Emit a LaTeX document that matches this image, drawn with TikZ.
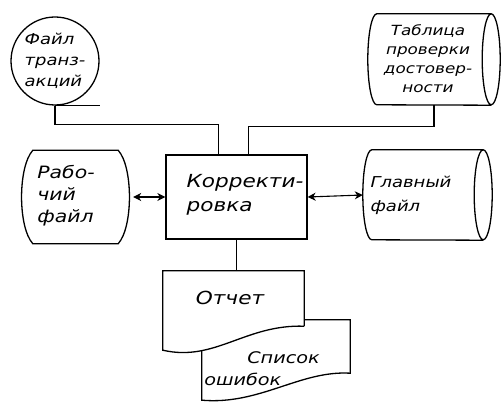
\documentclass[tikz,border=0pt]{standalone}
\usepackage{fontspec}
\setmainfont[FakeStretch=1.2]{DejaVu Sans}
\usetikzlibrary{shapes,arrows,arrows.meta,calc,positioning}

\begin{document}
\begin{tikzpicture}[x=1pt,y=-1pt]
			\tikzset{trait/.style={line width=1.3pt},
				lien/.style={line width=1.1pt},
				lienD/.style={{Stealth[length=8pt,width=8pt,inset=2.5pt]}-{Stealth[length=8pt,width=8pt,inset=2.5pt]}, line width=1.1pt},
				texte/.style={font=\fontsize{18}{24}\selectfont\itshape, align=left, inner sep=0pt},
				zone/.style={inner sep=0pt}};
			\useasboundingbox (0,0) rectangle (503,403);
			% bande magnetique
			\node [draw, trait, circle, minimum size=88, texte, font=\fontsize{15}{21}\selectfont\itshape] (trans) at (55,61) {Файл\\транз-\\акций};
			\draw[trait] (trans.south) -- ++(45,0);
			% tambours
			\node [zone, minimum width=132, minimum height=91] (table) at (434,59.5) {};
			\node [texte, align=center, font=\fontsize{14}{19}\selectfont\itshape] (tabletxt) at (428,59) {Таблица\\проверки\\достовер-\\ности};
			\node [zone, minimum width=129, minimum height=90] (principal) at (427.5,195) {};
			\node [texte, font=\fontsize{15}{24}\selectfont\itshape] (principaltxt) at (411,195) {Главный\\файл};
			\foreach \d/\r in {table/45.5, principal/45}
				\draw[trait] ($(\d.north east)+(-9,0)$) arc[start angle=90, end angle=450, x radius=9pt, y radius=\r pt]
					-- ($(\d.north west)+(9,0)$) arc[start angle=90, end angle=270, x radius=9pt, y radius=\r pt]
					-- ($(\d.south east)+(-9,0)$);
			% bloc central
			\node [draw, trait, zone, minimum width=141, minimum height=84] (corr) at (236.5,197) {};
			\node [texte] (corrtxt) at (245,195) {Корректи-\\ровка};
			% fichier de travail
			\node [zone, minimum width=115, minimum height=93] (travail) at (75.5,197) {};
			\draw[trait] ($(travail.north west)+(15,0)$) -- ($(travail.north east)+(-15,0)$)
				.. controls ($(travail.east)+(0,-30)$) and ($(travail.east)+(0,30)$) .. ($(travail.south east)+(-15,0)$)
				-- ($(travail.south west)+(15,0)$)
				.. controls ($(travail.west)+(0,30)$) and ($(travail.west)+(0,-30)$) .. cycle;
			\node [texte, font=\fontsize{17}{22}\selectfont\itshape] (travailtxt) at (66,196) {Рабо-\\чий\\файл};
			% documents
			\node [zone, minimum width=148, minimum height=53] (erreurs) at (276,346.5) {};
			\draw[trait, fill=white] (erreurs.north west) -- (erreurs.north east) -- (erreurs.south east)
				.. controls +(-50,-3) and +(58,5) .. ($(erreurs.south west)+(0,27)$) -- cycle;
			\node [zone, minimum width=141, minimum height=55] (rapport) at (233.5,298.5) {};
			\draw[trait, fill=white] (rapport.south east) -- (rapport.north east) -- (rapport.north west)
				-- ($(rapport.south west)+(0,24)$) .. controls +(52,12) and +(-59,-2) .. (rapport.south east);
			\node [texte] (rapporttxt) at (230,298) {Отчет};
			\node [texte, font=\fontsize{16}{22}\selectfont\itshape] (erreurstxt) at (262,369) {\hspace{43pt}Список\\ошибок};
			% liaisons
			\draw[lien] (trans.south) -- ++(0,19) -| ([xshift=-18pt]corr.north);
			\draw[lien] (table.south) -- ++(0,21) -| ([xshift=12pt]corr.north);
			\draw[lienD] (travail.east) -- (corr.west);
			\draw[lienD] (corr.east) -- (principal.west);
			\draw[lien] (corr.south) -- (corr.south |- rapport.north);
\end{tikzpicture}
\end{document}
